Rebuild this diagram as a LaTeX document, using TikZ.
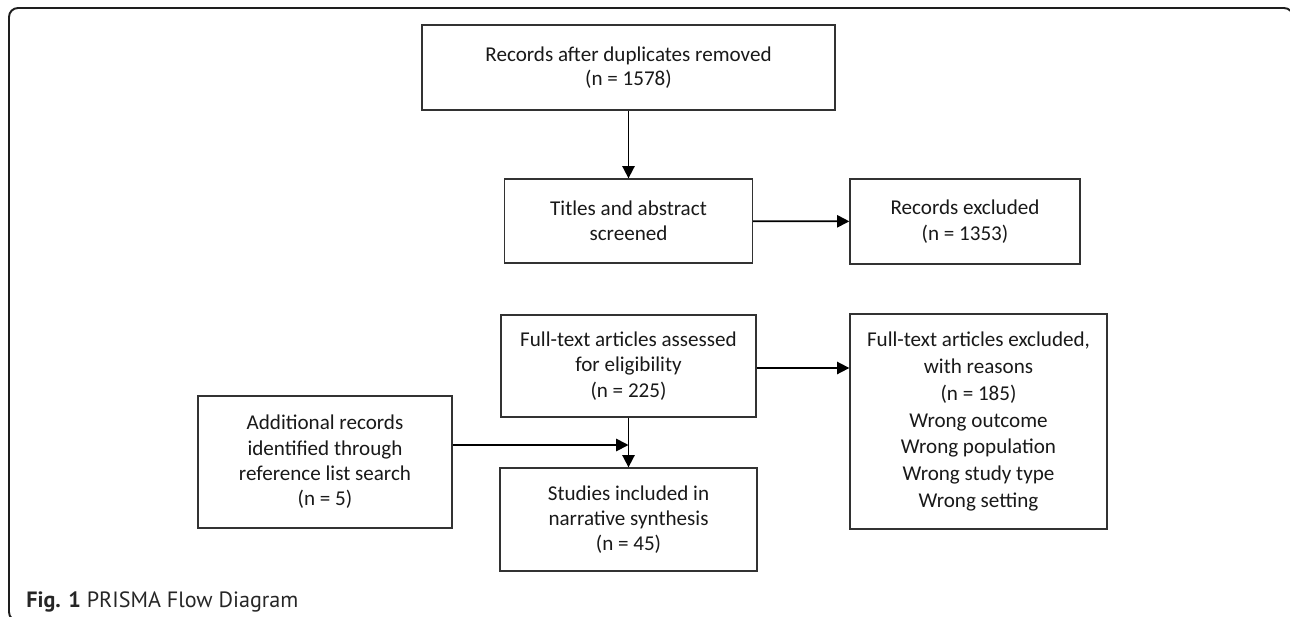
\documentclass[tikz,border=0pt]{standalone}
\usepackage{fontspec}
\setmainfont{Carlito}
\newfontfamily\capfont{PT Sans}
\usepackage{tikz}
\usetikzlibrary{arrows.meta, positioning, calc}
\definecolor{boxline}{RGB}{50,50,50}
\definecolor{frameline}{RGB}{30,30,30}

\begin{document}
\begin{tikzpicture}[
  font=\fontsize{12}{14.4}\selectfont,
  >={Triangle[length=7pt,width=7pt]},
  every node/.style={align=center},
  flowbox/.style={draw=boxline, line width=0.75pt, text=black!90,
                  minimum width=#1, inner sep=0pt},
  arr/.style={->, draw=black, line width=1pt},
]

\useasboundingbox (0,0) rectangle (25.8,-12.32);

%% Outer figure frame (right and bottom run off the page)
\begin{scope}
  \clip (0,0) rectangle (25.8,-12.32);
  \draw[draw=frameline, line width=1.1pt, rounded corners=0.18cm]
    (0.18,-0.16) rectangle (25.86,-12.42);
\end{scope}

%% Main column at x = 12.57
\def\xM{12.57}
\def\xR{19.30}

\node[flowbox=8.26cm, minimum height=1.70cm, font=\fontsize{12}{13.6}\selectfont] (dup) at (\xM,-1.35)
  {Records after duplicates removed\\(n = 1578)};
\node[flowbox=4.96cm, minimum height=1.68cm] (screen) at (\xM,-4.42)
  {Titles and abstract\\screened};
\node[flowbox=4.60cm, minimum height=1.70cm] (excl) at (\xR,-4.43)
  {Records excluded\\(n = 1353)};
\node[flowbox=5.10cm, minimum height=2.04cm] (full) at (\xM,-7.32)
  {Full-text articles assessed\\for eligibility\\(n = 225)};
\node[flowbox=5.14cm, minimum height=4.30cm, font=\fontsize{12}{15.3}\selectfont] (fexcl) at (19.57,-8.43)
  {Full-text articles excluded,\\with reasons\\(n = 185)\\Wrong outcome\\Wrong population\\Wrong study type\\Wrong setting};
\node[flowbox=5.08cm, minimum height=2.64cm] (addl) at (6.50,-9.24)
  {Additional records\\identified through\\reference list search\\(n = 5)};
\node[flowbox=5.14cm, minimum height=2.06cm] (incl) at (\xM,-10.39)
  {Studies included in\\narrative synthesis\\(n = 45)};

%% Connectors
\draw[arr] (dup) -- (screen);
\draw[arr] (screen) -- (excl);
\draw[arr] ([yshift=-0.04cm]full.east) -- ([yshift=-0.04cm]full.east -| fexcl.west);
\draw[arr] (full) -- (incl);
\coordinate (join) at ([yshift=0.34cm]addl.east -| full.south);
\draw[arr] ([yshift=0.34cm]addl.east) -- (join);

%% Caption
\node[anchor=base west, inner sep=0pt, font=\capfont\fontsize{12.6}{14}\selectfont,
      text=black!85] (cap) at (0.52,-12.14)
  {\textbf{Fig. 1} PRISMA Flow Diagram};

\end{tikzpicture}
\end{document}
